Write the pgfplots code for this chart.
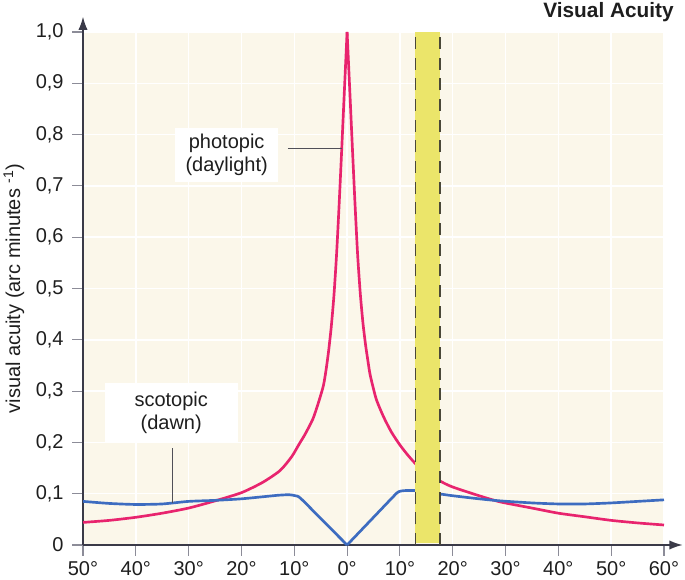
\documentclass[border=0pt]{standalone}
\usepackage{fontspec}
\setmainfont{Liberation Sans}
\usepackage{pgfplots}
\pgfplotsset{compat=1.18}
\usetikzlibrary{arrows.meta}
\definecolor{bgcream}{HTML}{FBF7EA}
\definecolor{photo}{HTML}{E8246E}
\definecolor{scoto}{HTML}{3D6CC0}
\definecolor{bandcol}{HTML}{EBE56A}
\definecolor{axiscol}{HTML}{3A3A48}
\definecolor{tickcol}{HTML}{8C8C98}
\definecolor{txt}{HTML}{1E1E1E}
\definecolor{leader}{HTML}{505058}
\definecolor{dashcol}{HTML}{4A4838}
\begin{document}
\begin{tikzpicture}
\begin{axis}[
  at={(0,0)}, anchor=south west,
  width=435.75pt, height=384.75pt, scale only axis,
  xmin=-50, xmax=60, ymin=0, ymax=1,
  axis lines=left,
  axis background/.style={fill=bgcream},
  grid=major, grid style={white, line width=1.1pt},
  xtick={-50,-40,-30,-20,-10,0,10,20,30,40,50,60},
  xticklabels={50°,40°,30°,20°,10°,0°,10°,20°,30°,40°,50°,60°},
  ytick={0,0.1,0.2,0.3,0.4,0.5,0.6,0.7,0.8,0.9,1.0},
  yticklabels={0,{0,1},{0,2},{0,3},{0,4},{0,5},{0,6},{0,7},{0,8},{0,9},{1,0}},
  tick align=outside,
  major tick length=8pt,
  tick style={tickcol, line width=0.8pt},
  x axis line style={axiscol, line width=1.1pt, -{Latex[length=10pt,width=7pt]}, shorten >=-14pt},
  y axis line style={axiscol, line width=1.1pt, -{Latex[length=10pt,width=7pt]}, shorten >=-11.5pt},
  ticklabel style={font=\fontsize{15}{18}\selectfont, text=txt},
  yticklabel style={xshift=-3pt},
  xticklabel style={yshift=-1pt},
  /pgf/number format/assume math mode=true,
  ylabel={visual acuity (arc minutes \textsuperscript{-1})},
  ylabel style={at={(axis description cs:-0.1188,0.5)}, anchor=center, font=\fontsize{15}{18}\selectfont, text=txt},
  clip=false,
]
% photopic (daylight), left half
\addplot[photo, line width=2pt, line join=round, smooth, tension=0.4] coordinates {
 (-50,0.044) (-45,0.048) (-40,0.054) (-35,0.062) (-30,0.072) (-25,0.086)
 (-20,0.102) (-16,0.122) (-12.7,0.145) (-10.5,0.172) (-9,0.198) (-8,0.215)
 (-6.5,0.245) (-5.5,0.275) (-4.5,0.31) (-4.0,0.34) (-3.5,0.378) (-3.0,0.425)
 (-2.5,0.485) (-2,0.565) (-1.5,0.665) (-1,0.775) (-0.5,0.888) (0,1.0)
};
% photopic (daylight), right half
\addplot[photo, line width=2pt, line join=round, smooth, tension=0.4] coordinates {
 (0,1.0) (0.5,0.888) (1,0.775) (1.5,0.665) (2,0.565) (2.5,0.49) (3.0,0.433) (3.5,0.39)
 (4,0.355) (4.4,0.33) (5.5,0.285) (6.9,0.25) (8.4,0.22) (10,0.195) (11.6,0.174)
 (13.2,0.156) (15.5,0.138) (17.9,0.123)
 (20,0.113) (25,0.096) (29,0.084) (35,0.072) (40,0.062) (45,0.055) (50,0.048) (55,0.043) (60,0.039)
};
% scotopic (dawn), left half
\addplot[scoto, line width=2pt, line join=round, smooth, tension=0.4] coordinates {
 (-50,0.085) (-45,0.081) (-40,0.079) (-35,0.080) (-30,0.085) (-25,0.087)
 (-20,0.090) (-15,0.095) (-13,0.097) (-11,0.098) (-9.8,0.096) (-8.8,0.091)
 (-4.4,0.0455) (0,0)
};
% scotopic (dawn), right half
\addplot[scoto, line width=2pt, line join=round, smooth, tension=0.4] coordinates {
 (0,0) (4.5,0.0485) (9,0.097) (9.8,0.104) (10.8,0.106) (13,0.106) (15.5,0.102) (17.9,0.099)
 (20,0.096) (25,0.090) (29,0.086) (35,0.082) (40,0.080) (45,0.080) (50,0.082)
 (55,0.085) (60,0.088)
};
% blind spot band
\fill[bandcol] (axis cs:12.9,0.004) rectangle (axis cs:17.6,1.0);
\draw[dashcol, line width=1pt, dash pattern=on 9pt off 6.5pt] (axis cs:12.9,0.0) -- (axis cs:12.9,1.0);
\draw[dashcol, line width=1pt, dash pattern=on 9pt off 6.5pt] (axis cs:17.6,0.0) -- (axis cs:17.6,1.0);
% annotations
\draw[leader, line width=0.8pt] (axis cs:-11.2,0.773) -- (axis cs:-1.0,0.773);
\node[fill=white, align=center, minimum width=77pt, minimum height=41pt, inner sep=2pt,
  font=\fontsize{15}{17.5}\selectfont, text=txt] at (axis cs:-22.8,0.76) {photopic\\(daylight)};
\draw[leader, line width=0.8pt] (axis cs:-33.1,0.189) -- (axis cs:-33.1,0.081);
\node[fill=white, align=center, minimum width=100pt, minimum height=44pt, inner sep=2pt,
  font=\fontsize{15}{17.5}\selectfont, text=txt] at (axis cs:-33.3,0.258) {scotopic\\(dawn)};
\end{axis}
\node[anchor=base east, font=\bfseries\fontsize{15.6}{18}\selectfont, text=txt] at (446.5pt,395.8pt) {Visual Acuity};
\pgfresetboundingbox
\path[use as bounding box] (-62.25pt,-26.25pt) rectangle (451.5pt,408.75pt);
\end{tikzpicture}
\end{document}
